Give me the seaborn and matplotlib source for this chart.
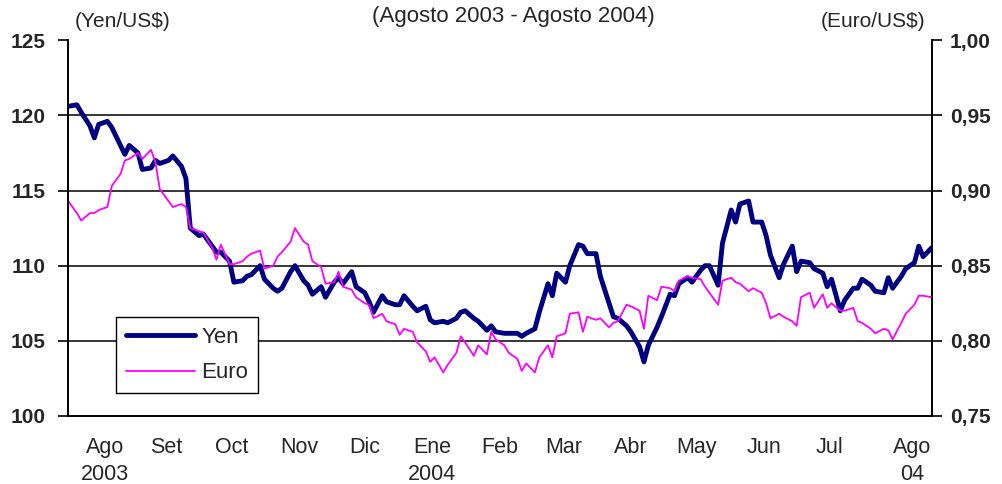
import pandas as pd
import matplotlib
matplotlib.use("Agg")
import matplotlib.pyplot as plt
from matplotlib.ticker import FuncFormatter
from matplotlib.lines import Line2D
import seaborn as sns

# Yen/US$ and Euro/US$, every second business day from 1 Aug 2003
yen = [
    120.6, 120.7, 120.2, 119.3, 118.5, 119.4, 119.6, 119.2, 118.0, 117.4,
    118.0, 117.5, 116.4, 116.5, 117.0, 116.8, 117.0, 117.3, 116.6, 115.8,
    112.5, 112.0, 112.1, 111.3, 110.9, 110.9, 110.3, 108.9, 109.0, 109.3,
    109.4, 110.0, 109.1, 108.5, 108.3, 108.5, 109.6, 110.0, 109.0, 108.7,
    108.1, 108.6, 107.9, 108.9, 109.2, 108.8, 109.6, 108.6, 108.2, 107.6,
    106.9, 108.0, 107.6, 107.4, 107.4, 108.0, 107.3, 107.0, 107.3, 106.4,
    106.2, 106.3, 106.2, 106.5, 106.9, 107.0, 106.5, 106.3, 105.7, 106.0,
    105.6, 105.5, 105.5, 105.5, 105.3, 105.5, 105.8, 106.9, 108.8, 108.0,
    109.5, 108.9, 110.0, 111.4, 111.3, 110.8, 110.8, 109.3, 107.5, 106.6,
    106.5, 106.0, 105.6, 104.6, 103.6, 104.7, 105.9, 106.6, 108.1, 108.0,
    108.8, 109.2, 108.9, 109.7, 110.0, 110.0, 108.7, 111.5, 113.7, 112.9,
    114.1, 114.3, 112.9, 112.9, 112.0, 110.7, 109.2, 110.1, 111.3, 109.6,
    110.3, 110.2, 109.8, 109.5, 108.6, 109.1, 107.0, 107.7, 108.5, 108.5,
    109.1, 108.7, 108.3, 108.2, 109.2, 108.5, 109.3, 109.8, 110.2, 111.3,
    110.6, 111.2,
]
euro = [
    0.893, 0.885, 0.880, 0.885, 0.885, 0.887, 0.889, 0.903, 0.911, 0.920,
    0.921, 0.925, 0.921, 0.927, 0.919, 0.901, 0.893, 0.889, 0.891, 0.889,
    0.875, 0.873, 0.872, 0.862, 0.854, 0.864, 0.851, 0.851, 0.853, 0.856,
    0.858, 0.860, 0.848, 0.850, 0.856, 0.859, 0.866, 0.875, 0.866, 0.864,
    0.853, 0.849, 0.838, 0.839, 0.846, 0.836, 0.834, 0.829, 0.825, 0.824,
    0.815, 0.818, 0.813, 0.811, 0.804, 0.808, 0.806, 0.799, 0.793, 0.786,
    0.789, 0.779, 0.784, 0.792, 0.803, 0.799, 0.790, 0.797, 0.791, 0.806,
    0.801, 0.797, 0.792, 0.788, 0.780, 0.785, 0.779, 0.789, 0.797, 0.789,
    0.803, 0.805, 0.818, 0.819, 0.806, 0.816, 0.814, 0.815, 0.809, 0.812,
    0.813, 0.824, 0.823, 0.820, 0.808, 0.830, 0.827, 0.836, 0.835, 0.833,
    0.840, 0.843, 0.842, 0.841, 0.836, 0.832, 0.824, 0.840, 0.842, 0.839,
    0.838, 0.833, 0.835, 0.832, 0.825, 0.815, 0.818, 0.816, 0.813, 0.810,
    0.829, 0.832, 0.822, 0.831, 0.822, 0.825, 0.820, 0.820, 0.822, 0.813,
    0.812, 0.808, 0.805, 0.808, 0.807, 0.801, 0.812, 0.818, 0.824, 0.830,
    0.830, 0.829,
]
month_dates = [
    "2003-08-18", "2003-09-15", "2003-10-15", "2003-11-15", "2003-12-15",
    "2004-01-15", "2004-02-15", "2004-03-15", "2004-04-15", "2004-05-15",
    "2004-06-15", "2004-07-15", "2004-08-22",
]
month_labels = ["Ago\n2003", "Set", "Oct", "Nov", "Dic", "Ene\n2004", "Feb",
                "Mar", "Abr", "May", "Jun", "Jul", "Ago\n04"]
yen_ticks = [100, 105, 110, 115, 120, 125]
euro_ticks = [0.75, 0.80, 0.85, 0.90, 0.95, 1.00]

YEN_COLOR = "#000080"
EURO_COLOR = "#ff00ff"


def build_frames():
    yen_df = pd.DataFrame({
        "fecha": pd.date_range("2003-08-01", periods=len(yen), freq="2B"),
        "valor": yen,
    })
    euro_df = pd.DataFrame({
        "fecha": pd.date_range("2003-08-01", periods=len(euro), freq="2B"),
        "valor": euro,
    })
    return yen_df, euro_df


def plot(yen_df, euro_df):
    sns.set_theme(style="white")
    plt.rcParams["font.family"] = ["Liberation Sans", "DejaVu Sans"]

    fig = plt.figure(figsize=(10.02, 4.84), dpi=100)
    ax = fig.add_axes([0.068, 0.1405, 0.862, 0.7765])
    ax2 = ax.twinx()

    sns.lineplot(data=yen_df, x="fecha", y="valor", ax=ax, color=YEN_COLOR,
                 linewidth=3.5, legend=False)
    sns.lineplot(data=euro_df, x="fecha", y="valor", ax=ax2, color=EURO_COLOR,
                 linewidth=1.3, legend=False)

    ax.set_xlim(pd.Timestamp("2003-08-01"), pd.Timestamp("2004-08-31"))
    ax.set_ylim(yen_ticks[0], yen_ticks[-1])
    ax2.set_ylim(euro_ticks[0], euro_ticks[-1])

    ax.set_yticks(yen_ticks)
    ax2.set_yticks(euro_ticks)
    ax2.yaxis.set_major_formatter(FuncFormatter(lambda v, p: f"{v:.2f}".replace(".", ",")))
    ax.set_xticks(pd.to_datetime(month_dates))
    ax.set_xticklabels(month_labels, fontsize=15.5, linespacing=1.4)

    for g in yen_ticks[1:-1]:
        ax.axhline(g, color="black", linewidth=1.1, zorder=0)

    ax.tick_params(axis="x", length=0, pad=15)
    ax.tick_params(axis="y", length=7, width=1.2, direction="out", color="black",
                   labelsize=15, pad=9, left=True)
    ax2.tick_params(axis="y", length=7, width=1.2, direction="out", color="black",
                    labelsize=15, pad=6, right=True)
    for lab in ax.get_yticklabels() + ax2.get_yticklabels():
        lab.set_fontweight("bold")

    for a in (ax, ax2):
        a.set_xlabel("")
        a.set_ylabel("")
        a.spines["top"].set_visible(False)
        for s in ("left", "right", "bottom"):
            a.spines[s].set_color("black")
            a.spines[s].set_linewidth(1.2)

    fig.text(0.075, 0.955, "(Yen/US$)", fontsize=15, ha="left", va="center")
    fig.text(0.924, 0.955, "(Euro/US$)", fontsize=15, ha="right", va="center")
    fig.text(0.512, 0.966, "(Agosto 2003 - Agosto 2004)", fontsize=16,
             ha="center", va="center")

    handles = [Line2D([], [], color=YEN_COLOR, linewidth=3.5),
               Line2D([], [], color=EURO_COLOR, linewidth=1.3)]
    leg = ax2.legend(handles, ["Yen", "Euro"], loc="lower left",
                     bbox_to_anchor=(0.055, 0.06), fontsize=16,
                     handlelength=3.1, labelspacing=0.65, borderpad=0.45,
                     handletextpad=0.3, fancybox=False, framealpha=1,
                     edgecolor="black", borderaxespad=0)
    leg.get_frame().set_linewidth(1.0)

    fig.savefig("out.png", dpi=100)


def main():
    yen_df, euro_df = build_frames()
    plot(yen_df, euro_df)


if __name__ == "__main__":
    main()
